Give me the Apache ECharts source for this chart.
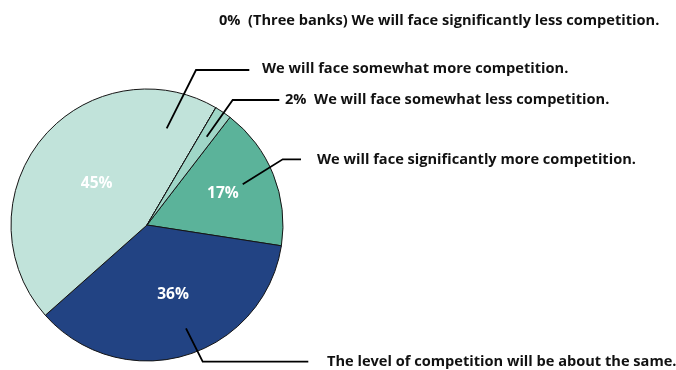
<!DOCTYPE html>
<html>
<head>
<meta charset="utf-8">
<script src="https://cdn.jsdelivr.net/npm/echarts@6/dist/echarts.min.js"></script>
<style>
  html, body { margin: 0; padding: 0; background: #ffffff; }
  #chart { width: 676px; height: 370px; }
</style>
</head>
<body>
<div id="chart"></div>
<script>
// Survey answers, in clockwise drawing order
const categories = [
  'We will face significantly more competition.',
  'The level of competition will be about the same.',
  'We will face somewhat more competition.',
  'We will face significantly less competition.',
  'We will face somewhat less competition.'
];
const shares = [17, 36, 45, 0, 2];
const notes = ['', '', '', '(Three banks) ', ''];
const shareInCallout = [false, false, false, true, true];
const shareInSlice = [true, true, true, false, false];

// Styling and placement of the callouts
const sliceColors = ['#5bb39a', '#224383', '#c1e3da', '#a8dccd', '#9fd6c7'];
const pieCenter = [147, 225];
const pieRadius = 136;
const calloutText = [[317, 160], [327, 362], [262, 69], [219, 21], [285, 100]];
const calloutLines = [
  [[242.7, 184.3], [282.7, 159.3], [301, 159.3]],
  [[186, 328.3], [202.7, 361.7], [308.3, 361.7]],
  [[166.7, 128.3], [196, 70], [249.3, 70]],
  null,
  [[206.7, 136.7], [232.7, 100], [279.3, 100]]
];
const insideNudge = [[10, -5], [6, 1], [4.5, 3.5], [0, 0], [0, 0]];

const FONT = '"Open Sans", "DejaVu Sans", sans-serif';

const sliceData = categories.map((name, i) => ({
  name,
  value: shares[i],
  itemStyle: { color: sliceColors[i] },
  label: { show: shareInSlice[i] }
}));

const calloutData = categories.map((name, i) => ({
  name,
  value: shares[i],
  labelLine: { show: calloutLines[i] !== null }
}));

const chart = echarts.init(document.getElementById('chart'), null, { renderer: 'canvas' });
chart.setOption({
  animation: false,
  backgroundColor: '#ffffff',
  series: [
    {
      type: 'pie',
      center: pieCenter,
      radius: pieRadius,
      startAngle: 52.4,
      clockwise: true,
      avoidLabelOverlap: false,
      silent: true,
      itemStyle: { borderColor: '#151515', borderWidth: 1 },
      label: {
        position: 'inside',
        color: '#ffffff',
        fontFamily: FONT,
        fontWeight: 'bold',
        fontSize: 15.5,
        formatter: p => p.value + '%'
      },
      labelLine: { show: false },
      labelLayout: p => ({ dx: insideNudge[p.dataIndex][0], dy: insideNudge[p.dataIndex][1] }),
      emphasis: { disabled: true },
      data: sliceData
    },
    {
      type: 'pie',
      center: pieCenter,
      radius: pieRadius,
      startAngle: 52.4,
      clockwise: true,
      avoidLabelOverlap: false,
      silent: true,
      z: 5,
      itemStyle: { color: 'rgba(0,0,0,0)', borderWidth: 0 },
      label: {
        position: 'outside',
        overflow: 'none',
        color: '#111111',
        fontFamily: FONT,
        fontWeight: 'bold',
        fontSize: 14.6,
        formatter: p => (shareInCallout[p.dataIndex] ? p.value + '%  ' : '') + notes[p.dataIndex] + p.name
      },
      labelLine: { show: true, smooth: false, lineStyle: { color: '#000000', width: 1.8 } },
      labelLayout: p => {
        const i = p.dataIndex;
        const out = { x: calloutText[i][0], y: calloutText[i][1], align: 'left', verticalAlign: 'middle' };
        if (calloutLines[i]) out.labelLinePoints = calloutLines[i];
        return out;
      },
      emphasis: { disabled: true },
      data: calloutData
    }
  ]
});
</script>
</body>
</html>
